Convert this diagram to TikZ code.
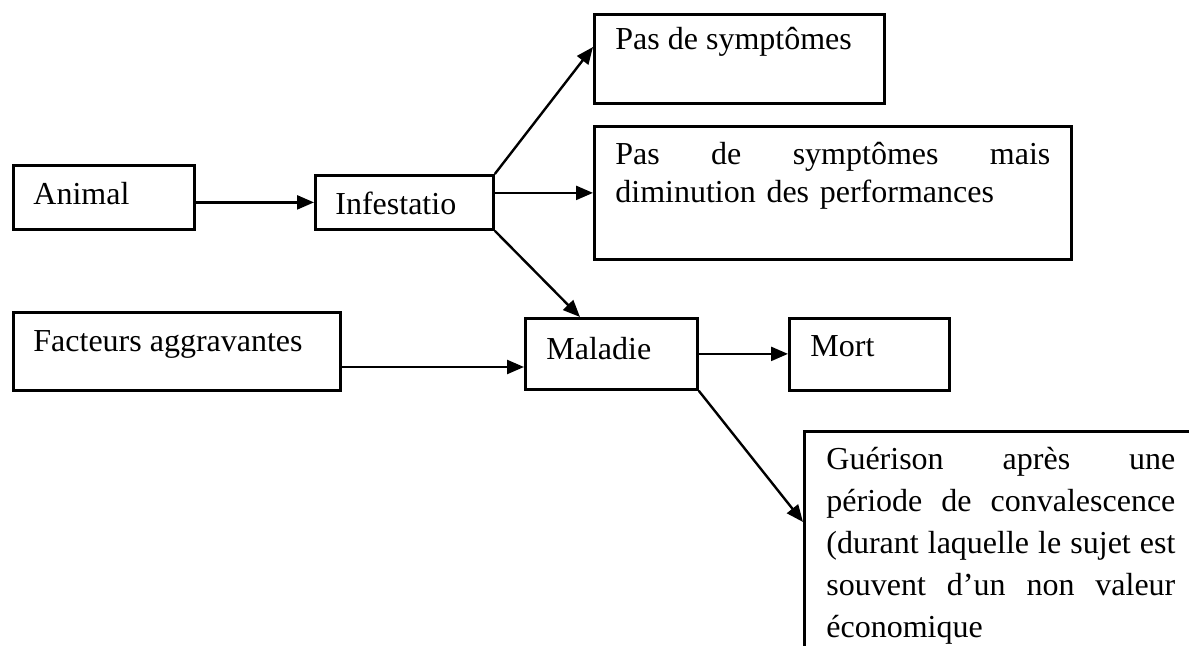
\documentclass[tikz,border=0pt]{standalone}
\usepackage{fontspec}
\setmainfont{Liberation Serif}
\usetikzlibrary{arrows.meta,positioning,calc}
\newcommand\fullline[1]{\makebox[\linewidth][s]{\spaceskip=0pt\xspaceskip=0pt\relax#1}}

\begin{document}
\begin{tikzpicture}[x=0.5pt, y=-0.5pt,
  box/.style={draw, line width=1.4pt, inner sep=0pt, anchor=north west},
  lbl/.style={inner sep=0pt, anchor=base west, font=\fontsize{16}{19}\selectfont},
  arr/.style={line width=1.2pt, -{Triangle[length=8.5pt, width=7pt]}}]
\useasboundingbox (0,0) rectangle (1189,646);
\clip (0,0) rectangle (1189,646);
% ---------------- boxes ----------------
\node[box, minimum width=90.5pt, minimum height=32pt]  (animal)   at (12,164)  {};
\node[box, minimum width=89pt,   minimum height=27pt]  (infest)   at (314,174) {};
\node[box, minimum width=145pt,  minimum height=44.5pt](symp1)    at (593,13)  {};
\node[box, minimum width=238.5pt,minimum height=66.5pt](symp2)    at (593,125) {};
\node[box, minimum width=163.5pt,minimum height=39pt]  (facteurs) at (12,311)  {};
\node[box, minimum width=86pt,   minimum height=35.5pt](maladie)  at (524,317) {};
\node[box, minimum width=80pt,   minimum height=36pt]  (mort)     at (788,317) {};
\node[box, minimum width=210pt,  minimum height=150pt] (guerison) at (803,430) {};
% ---------------- texts ----------------
\node[lbl] (animal-t)   at ($(animal.north west)+(21,41)$)   {Animal};
\node[lbl] (infest-t)   at ($(infest.north west)+(21,41)$)   {Infestatio};
\node[lbl] (symp1-t)    at ($(symp1.north west)+(22,37)$)    {Pas de symptômes};
\node[lbl, text width=217.5pt, align=left] (symp2-t) at ($(symp2.north west)+(22,40)$)
  {\fullline{Pas de symptômes mais}\\ diminution des performances};
\node[lbl] (facteurs-t) at ($(facteurs.north west)+(21,41)$) {Facteurs aggravantes};
\node[lbl] (maladie-t)  at ($(maladie.north west)+(22,43)$)  {Maladie};
\node[lbl] (mort-t)     at ($(mort.north west)+(22,40)$)     {Mort};
\node[lbl, text width=174.5pt, align=left, font=\fontsize{16}{21}\selectfont]
  (guerison-t) at ($(guerison.north west)+(23,40)$)
  {\fullline{Guérison après une}\\
   \fullline{période de convalescence}\\
   \fullline{(durant laquelle le sujet est}\\
   \fullline{souvent d’un non valeur}\\
   économique};
% ---------------- arrows ----------------
\coordinate (symp1-in)   at ($(symp1.north west)+(0,34)$);
\coordinate (maladie-in) at ($(maladie.north west)+(56,0)$);
\coordinate (maladie-w)  at ($(maladie.north west)+(0,50)$);
\coordinate (guerison-in) at ($(guerison.north west)+(0,92)$);
\draw[arr] (animal.east |- infest.west) -- (infest.west);
\draw[arr] (infest.north east) -- (symp1-in);
\draw[arr] (infest.east |- symp2.west) -- (symp2.west);
\draw[arr] (infest.south east) -- (maladie-in);
\draw[arr] (facteurs.east |- maladie-w) -- (maladie-w);
\draw[arr] (maladie.east) -- (maladie.east -| mort.west);
\draw[arr] (maladie.south east) -- (guerison-in);
\end{tikzpicture}
\end{document}
